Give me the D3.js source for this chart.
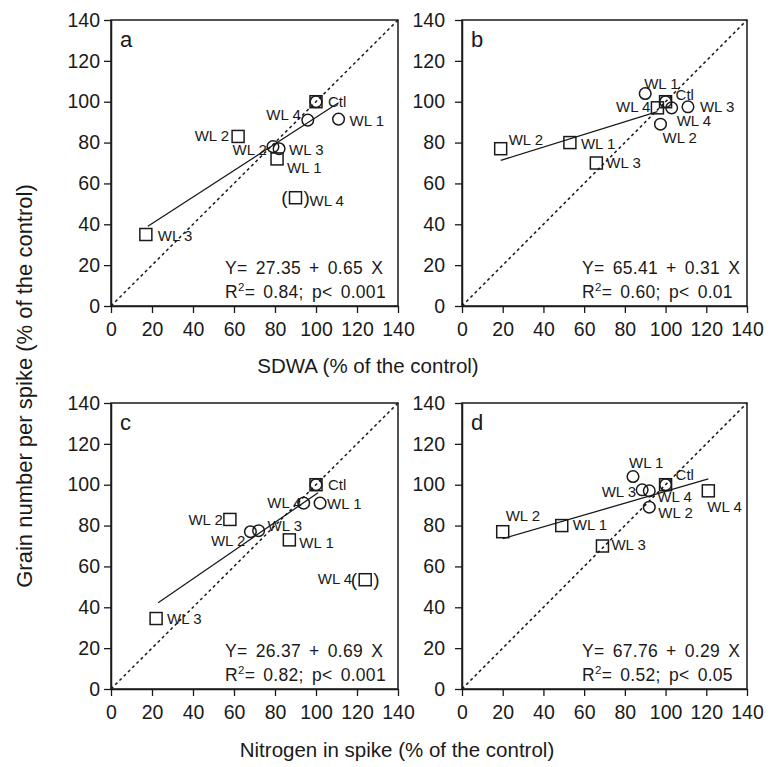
<!DOCTYPE html>
<html>
<head>
<meta charset="utf-8">
<script src="https://cdn.jsdelivr.net/npm/d3@7"></script>
<style>
  body { margin: 0; background: #fff; }
  text { font-family: Arial, "Liberation Sans", sans-serif; fill: #1a1a1a; }
</style>
</head>
<body>
<div id="chart"></div>
<script>
// axis ticks shared by every panel
var tickValues = [0, 20, 40, 60, 80, 100, 120, 140];
var panelLetters = ["a", "b", "c", "d"];

// panel a : SDWA, squares and circles
var aSqX = [100, 62, 81, 90, 17];
var aSqY = [100, 83, 72, 53, 35];
var aSqLab = ["Ctl", "WL 2", "WL 1", "WL 4", "WL 3"];
var aCiX = [100, 96, 111, 79, 82];
var aCiY = [100, 91, 91.5, 78, 77];
var aCiLab = ["", "WL 4", "WL 1", "WL 2", "WL 3"];

// panel b : SDWA
var bSqX = [19, 53, 66, 96, 100];
var bSqY = [77, 80, 70, 97, 100];
var bSqLab = ["WL 2", "WL 1", "WL 3", "WL 4", "Ctl"];
var bCiX = [90, 100, 103, 111, 97.5];
var bCiY = [104, 100, 97, 97.5, 89];
var bCiLab = ["WL 1", "", "WL 4", "WL 3", "WL 2"];

// panel c : nitrogen in spike
var cSqX = [100, 58, 87, 124, 22];
var cSqY = [100, 83, 73, 53.5, 34.5];
var cSqLab = ["Ctl", "WL 2", "WL 1", "WL 4", "WL 3"];
var cCiX = [100, 94, 102, 68, 72];
var cCiY = [100, 91, 91, 77, 77.5];
var cCiLab = ["", "WL 4", "WL 1", "WL 2", "WL 3"];

// panel d : nitrogen in spike
var dSqX = [20, 49, 69, 100, 121];
var dSqY = [77, 80, 70, 100, 97];
var dSqLab = ["WL 2", "WL 1", "WL 3", "Ctl", "WL 4"];
var dCiX = [84, 88.5, 92, 92, 100];
var dCiY = [104, 97.5, 97, 89, 100];
var dCiLab = ["WL 1", "WL 3", "WL 4", "WL 2", ""];

// regression fits printed on each panel
var intercepts = [27.35, 65.41, 26.37, 67.76];
var slopes = [0.65, 0.31, 0.69, 0.29];
var fitFrom = [18, 19, 23, 20];
var fitTo = [111, 96, 101, 121];
var eqTexts = ["Y= 27.35 + 0.65 X", "Y= 65.41 + 0.31 X", "Y= 26.37 + 0.69 X", "Y= 67.76 + 0.29 X"];
var r2Values = ["0.84", "0.60", "0.82", "0.52"];
var pTexts = ["p< 0.001", "p< 0.01", "p< 0.001", "p< 0.05"];
// points that are bracketed in the figure: [panel, square index]
var bracketed = [[0, 3], [2, 3]];

// label placement (dx, dy, anchor) for each point label
var aSqPos = [[12, 5, "start"], [-9, 5, "end"], [10, 14, "start"], [14, 8, "start"], [12, 6, "start"]];
var aCiPos = [[0, 0, "start"], [-7, 0, "end"], [11, 7, "start"], [-6, 8, "end"], [10, 6, "start"]];
var bSqPos = [[8, -4, "start"], [11, 6, "start"], [10, 5, "start"], [-7, 4, "end"], [10, -2, "start"]];
var bCiPos = [[-1, -5, "start"], [0, 0, "start"], [5, 18, "start"], [12, 5, "start"], [2, 19, "start"]];
var cSqPos = [[12, 5, "start"], [-7, 6, "end"], [10, 8, "start"], [-13, 4, "end"], [11, 5, "start"]];
var cCiPos = [[0, 0, "start"], [-2, 5, "end"], [7, 6, "start"], [-5, 14, "end"], [9, 0, "start"]];
var dSqPos = [[3, -11, "start"], [11, 4, "start"], [9, 4, "start"], [10, -5, "start"], [-1, 21, "start"]];
var dCiPos = [[-4, -9, "start"], [-6, 7, "end"], [8, 11, "start"], [9, 11, "start"], [0, 0, "start"]];

function pts(xs, ys, labs, pos) {
  return xs.map(function (v, i) { return { x: v, y: ys[i], lab: labs[i], pos: pos[i] }; });
}

var panels = [
  { sq: pts(aSqX, aSqY, aSqLab, aSqPos), ci: pts(aCiX, aCiY, aCiLab, aCiPos) },
  { sq: pts(bSqX, bSqY, bSqLab, bSqPos), ci: pts(bCiX, bCiY, bCiLab, bCiPos) },
  { sq: pts(cSqX, cSqY, cSqLab, cSqPos), ci: pts(cCiX, cCiY, cCiLab, cCiPos) },
  { sq: pts(dSqX, dSqY, dSqLab, dSqPos), ci: pts(dCiX, dCiY, dCiLab, dCiPos) }
];

var cols = [[111, 398], [462, 747]];
var rows = [[20, 306], [403, 689]];
var ink = "#1a1a1a";

var svg = d3.select("#chart").append("svg")
  .attr("width", 776)
  .attr("height", 767);

panels.forEach(function (p, i) {
  var c = cols[i % 2], r = rows[Math.floor(i / 2)];
  var x = d3.scaleLinear().domain([0, 140]).range(c);
  var y = d3.scaleLinear().domain([0, 140]).range([r[1], r[0]]);
  var g = svg.append("g");

  // frame
  g.append("rect")
    .attr("x", c[0]).attr("y", r[0])
    .attr("width", c[1] - c[0]).attr("height", r[1] - r[0])
    .attr("fill", "none").attr("stroke", ink).attr("stroke-width", 1.5);

  // axes
  var xa = g.append("g")
    .attr("transform", "translate(0," + r[1] + ")")
    .call(d3.axisBottom(x).tickValues(tickValues).tickSize(7).tickSizeOuter(0).tickPadding(9));
  var ya = g.append("g")
    .attr("transform", "translate(" + c[0] + ",0)")
    .call(d3.axisLeft(y).tickValues(tickValues).tickSize(7).tickSizeOuter(0).tickPadding(i % 2 ? 10 : 4));
  [xa, ya].forEach(function (a) {
    a.select(".domain").attr("stroke", ink).attr("stroke-width", 1.5);
    a.selectAll(".tick line").attr("stroke", ink).attr("stroke-width", 1.3);
    a.selectAll(".tick text").attr("fill", ink).style("font-size", "19.5px")
      .style("font-family", "Arial, 'Liberation Sans', sans-serif");
  });

  // 1:1 line
  g.append("line")
    .attr("x1", x(0)).attr("y1", y(0)).attr("x2", x(140)).attr("y2", y(140))
    .attr("stroke", ink).attr("stroke-width", 1.5).attr("stroke-dasharray", "3,3");

  // regression line
  g.append("line")
    .attr("x1", x(fitFrom[i])).attr("y1", y(intercepts[i] + slopes[i] * fitFrom[i]))
    .attr("x2", x(fitTo[i])).attr("y2", y(intercepts[i] + slopes[i] * fitTo[i]))
    .attr("stroke", ink).attr("stroke-width", 1.3);

  // squares
  g.selectAll(".sq").data(p.sq).enter().append("rect")
    .attr("x", function (d) { return x(d.x) - 6; })
    .attr("y", function (d) { return y(d.y) - 6; })
    .attr("width", 12).attr("height", 12)
    .attr("fill", "none").attr("stroke", ink).attr("stroke-width", 1.5);

  // circles
  g.selectAll(".ci").data(p.ci).enter().append("circle")
    .attr("cx", function (d) { return x(d.x); })
    .attr("cy", function (d) { return y(d.y); })
    .attr("r", 5.8)
    .attr("fill", "none").attr("stroke", ink).attr("stroke-width", 1.5);

  // point labels
  g.selectAll(".lab").data(p.sq.concat(p.ci).filter(function (d) { return d.lab; }))
    .enter().append("text")
    .attr("x", function (d) { return x(d.x) + d.pos[0]; })
    .attr("y", function (d) { return y(d.y) + d.pos[1]; })
    .attr("text-anchor", function (d) { return d.pos[2]; })
    .style("font-size", "15px")
    .text(function (d) { return d.lab; });

  // brackets around excluded points
  bracketed.filter(function (b) { return b[0] === i; }).forEach(function (b) {
    var d = p.sq[b[1]];
    g.append("text").attr("x", x(d.x) - 8).attr("y", y(d.y) + 6)
      .attr("text-anchor", "end").style("font-size", "19px").text("(");
    g.append("text").attr("x", x(d.x) + 8).attr("y", y(d.y) + 6)
      .style("font-size", "19px").text(")");
  });

  // panel letter
  g.append("text")
    .attr("x", c[0] + 9).attr("y", r[0] + 27)
    .style("font-size", "22px")
    .text(panelLetters[i]);

  // equation
  var ex = c[0] + (i % 2 ? 120 : 114);
  g.append("text")
    .attr("x", ex).attr("y", r[1] - 32)
    .style("font-size", "17.5px").style("letter-spacing", "0.3px").style("word-spacing", "3px")
    .text(eqTexts[i]);
  var t2 = g.append("text")
    .attr("x", ex).attr("y", r[1] - 8)
    .style("font-size", "17.5px").style("letter-spacing", "0.3px").style("word-spacing", "3px");
  t2.append("tspan").text("R");
  t2.append("tspan").attr("dy", -7).style("font-size", "11.5px").text("2");
  t2.append("tspan").attr("dy", 7).text("= " + r2Values[i] + "; " + pTexts[i]);
});

// axis titles
svg.append("text")
  .attr("x", 368).attr("y", 373)
  .attr("text-anchor", "middle")
  .style("font-size", "20.5px")
  .text("SDWA (% of the control)");

svg.append("text")
  .attr("x", 397).attr("y", 757)
  .attr("text-anchor", "middle")
  .style("font-size", "20.5px")
  .text("Nitrogen in spike (% of the control)");

svg.append("text")
  .attr("transform", "translate(32,386) rotate(-90)")
  .attr("text-anchor", "middle")
  .style("font-size", "22px")
  .text("Grain number per spike (% of the control)");
</script>
</body>
</html>
